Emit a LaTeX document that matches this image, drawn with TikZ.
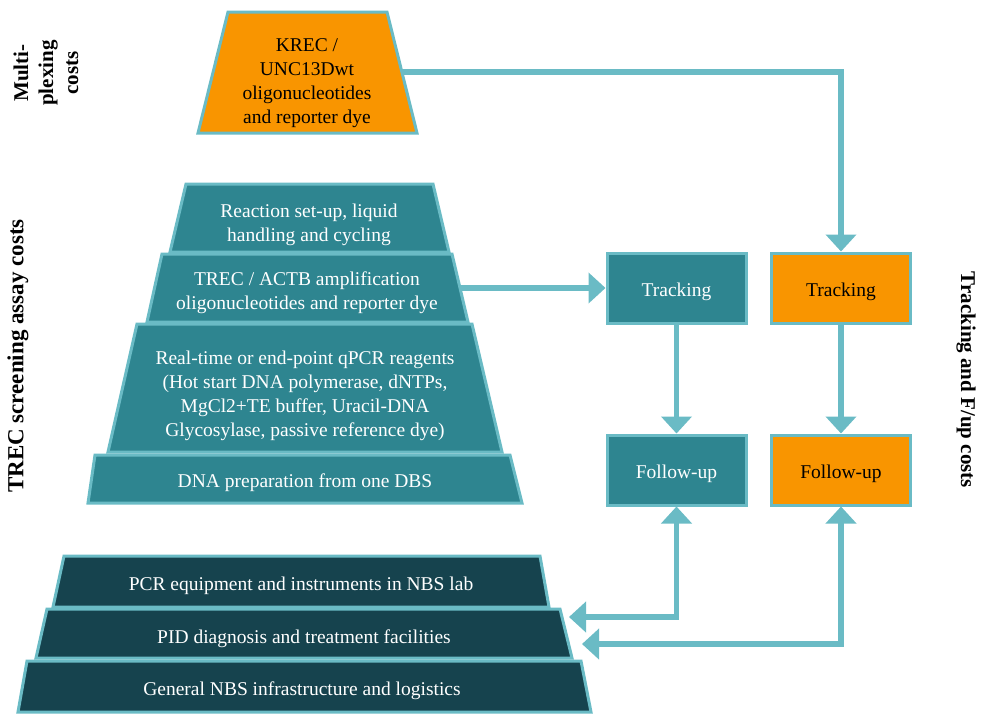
\documentclass[tikz,border=0pt]{standalone}
\usepackage{fontspec}
\setmainfont{Liberation Serif}
\usetikzlibrary{arrows.meta}
\definecolor{tealfill}{HTML}{2E8590}
\definecolor{darkfill}{HTML}{16434E}
\definecolor{orangefill}{HTML}{F99500}
\definecolor{edge}{HTML}{6ABBC5}
\tikzset{
  layer/.style={draw=edge, line width=3pt, line join=miter},
  txt/.style={align=center, font=\fontsize{19.5}{24}\selectfont, inner sep=0pt},
  wtxt/.style={txt, text=white},
  box/.style={draw=edge, line width=3pt, minimum width=139pt, minimum height=70pt, inner sep=0pt, text height=17pt, text depth=0pt, font=\fontsize{19.5}{24}\selectfont},
  side/.style={align=center, font=\fontsize{21}{25}\selectfont\bfseries, inner sep=0pt},
  conn/.style={draw=edge, line width=5.5pt, line join=miter},
  tip/.tip={Triangle[width=30pt,length=17pt]}
}
\begin{document}
\begin{tikzpicture}[x=1pt,y=-1pt]
\useasboundingbox (0,0) rectangle (982,713);
% KREC trapezoid
\draw[layer, fill=orangefill] (228,12) -- (387,12) -- (417,133) -- (198,133) -- cycle;
\node[txt] (krec) at (307,83) {KREC /\\UNC13Dwt\\oligonucleotides\\and reporter dye};
\coordinate (krecout) at (402,72);
% TREC pyramid
\draw[layer, fill=tealfill] (186,184) -- (433,184) -- (449,252) -- (170,252) -- cycle;
\node[wtxt] (l1) at (309,224.5) {Reaction set-up, liquid\\handling and cycling};
\draw[layer, fill=tealfill] (162,254) -- (452,254) -- (468,322) -- (147,322) -- cycle;
\node[wtxt] (l2) at (307,293) {TREC / ACTB amplification\\oligonucleotides and reporter dye};
\coordinate (l2out) at (460,288);
\draw[layer, fill=tealfill] (137,324) -- (472,324) -- (502,452) -- (108,452) -- cycle;
\node[wtxt] (l3) at (305,396) {Real-time or end-point qPCR reagents\\(Hot start DNA polymerase, dNTPs,\\MgCl2+TE buffer, Uracil-DNA\\Glycosylase, passive reference dye)};
\draw[layer, fill=tealfill] (95,455) -- (510,455) -- (522,503) -- (88,503) -- cycle;
\node[wtxt] (l4) at (305,483) {DNA preparation from one DBS};
% dark pyramid
\draw[layer, fill=darkfill] (64,556) -- (540,556) -- (549,607) -- (53,607) -- cycle;
\node[wtxt] (d1) at (301,586) {PCR equipment and instruments in NBS lab};
\draw[layer, fill=darkfill] (47,609) -- (560,609) -- (572,658) -- (36,658) -- cycle;
\node[wtxt] (d2) at (304,639) {PID diagnosis and treatment facilities};
\draw[layer, fill=darkfill] (27,661) -- (581,661) -- (591,712) -- (18,712) -- cycle;
\node[wtxt] (d3) at (302,691) {General NBS infrastructure and logistics};
\coordinate (d2in1) at (569,617);
\coordinate (d2in2) at (582,644);
% boxes
\node[box, fill=tealfill, text=white] (trL) at (676.5,288) {Tracking};
\node[box, fill=orangefill] (trR) at (841,288) {Tracking};
\node[box, fill=tealfill, text=white] (fuL) at (676.5,470) {Follow-up};
\node[box, fill=orangefill] (fuR) at (841,470) {Follow-up};
% connectors
\draw[conn, -tip] (krecout) -- (krecout -| trR.north) -- (trR.north);
\draw[conn, -tip] (l2out) -- (trL.west);
\draw[conn, -tip] (trL.south) -- (fuL.north);
\draw[conn, -tip] (trR.south) -- (fuR.north);
\draw[conn, tip-tip] (d2in1) -- (d2in1 -| fuL.south) -- (fuL.south);
\draw[conn, tip-tip] (d2in2) -- (d2in2 -| fuR.south) -- (fuR.south);
% side labels
\node[side, rotate=90] (lblmulti) at (46,73) {Multi-\\plexing\\costs};
\node[side, rotate=90, font=\fontsize{23}{27}\selectfont\bfseries] (lbltrec) at (18,356) {TREC screening assay costs};
\node[side, rotate=-90] (lbltrack) at (966,380) {Tracking and F/up costs};
\end{tikzpicture}
\end{document}
